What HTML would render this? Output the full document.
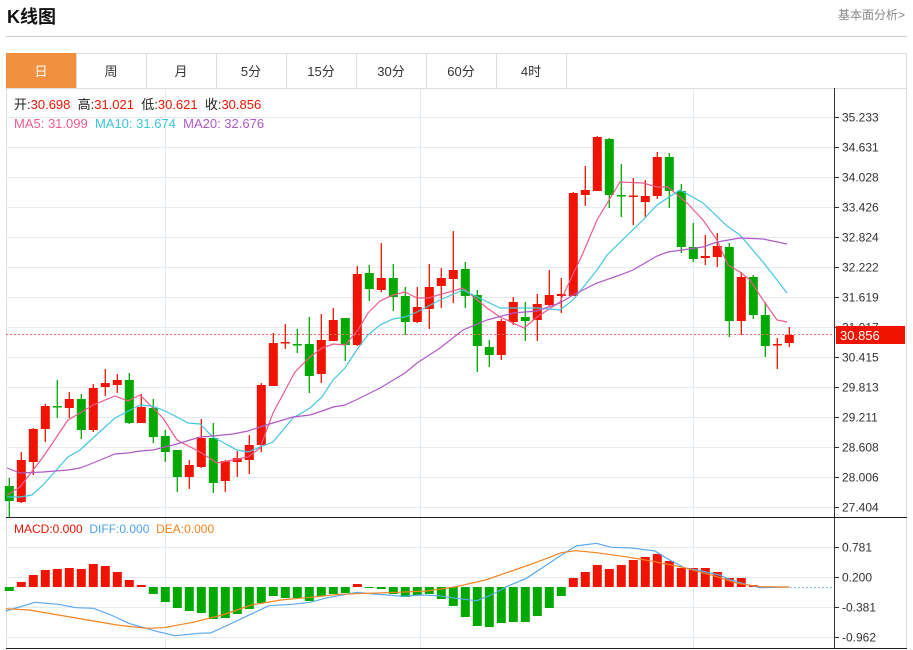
<!DOCTYPE html>
<html><head><meta charset="utf-8"><style>
html,body{margin:0;padding:0;background:#fff;width:913px;height:650px;overflow:hidden;font-family:"Liberation Sans","Noto Sans CJK SC",sans-serif}
#c{position:absolute;left:0;top:0}
</style></head><body>
<svg id="c" width="913" height="650" xmlns="http://www.w3.org/2000/svg" font-family="Liberation Sans, Noto Sans CJK SC, sans-serif"></svg>
<script>
var s='';
function L(x1,y1,x2,y2,c,w,extra){s+='<line x1="'+x1+'" y1="'+y1+'" x2="'+x2+'" y2="'+y2+'" stroke="'+c+'" stroke-width="'+(w||1)+'" '+(extra||'')+'/>';}
function R(x,y,w,h,f,extra){s+='<rect x="'+x+'" y="'+y+'" width="'+w+'" height="'+h+'" fill="'+f+'" '+(extra||'')+'/>';}
function T(x,y,t,c,sz,extra){s+='<text x="'+x+'" y="'+y+'" fill="'+c+'" font-size="'+sz+'" '+(extra||'')+'>'+t+'</text>';}
function P(pts,c){s+='<polyline fill="none" stroke="'+c+'" stroke-width="1.2" points="'+pts.map(function(p){return p[0]+','+p[1]}).join(' ')+'"/>';}
T(7,23,'K线图','#111',18,'font-weight="bold"');
T(838,19,'基本面分析&gt;','#888',12);
L(6,36.5,907,36.5,'#ccc',1);
R(6.5,53.5,900,35,'#fff','stroke="#ddd"');
var tabs=['日','周','月','5分','15分','30分','60分','4时'];
for(var i=0;i<tabs.length;i++){var x=6+70*i;
 if(i==0)R(x,53,70,35,'#f39040');
 L(x+70.5,53,x+70.5,88,'#ddd');
 T(x+35,76,tabs[i],i==0?'#fff':'#333',13,'text-anchor="middle"');}
L(6.5,88,6.5,648,'#ddd');L(906.5,88,906.5,648,'#ddd');
var labs=['35.233','34.631','34.028','33.426','32.824','32.222','31.619','31.017','30.415','29.813','29.211','28.608','28.006','27.404'];
for(var i=0;i<14;i++){var y=117+30*i+0.5;L(6,y,834,y,'#e3eaf0');L(834,y,839,y,'#333');T(842,y+4,labs[i],'#333',12);}
[165.5,420.5,693.5].forEach(function(x){L(x,88,x,648,'#e3eaf0');});
var ml=[['0.781',547],['0.200',577],['-0.381',607],['-0.962',637]];
ml.forEach(function(m){L(6,m[1]+0.5,834,m[1]+0.5,'#e3eaf0');L(834,m[1]+0.5,839,m[1]+0.5,'#333');T(842,m[1]+4.5,m[0],'#333',12);});
L(834.5,88,834.5,648,'#333');
L(6,517.5,907,517.5,'#222');L(6,648.5,907,648.5,'#222');
var C=[['g',486,501,478,517],['r',502,460,452,503],['r',462,429,428,475],['r',429,406,404,442],['g',406,407,380,418],['r',408,399,392,418],['g',399,430,394,439],['r',430,388,384,432],['r',387,383,369,396],['r',385,380,374,393],['g',380,423,373,424],['r',423,407,394,423],['g',408,437,399,443],['g',436,452,430,462],['g',450,477,450,492],['r',477,465,460,489],['r',467,438,419,468],['g',438,483,423,493],['r',481,461,460,492],['r',462,458,451,477],['r',460,445,435,474],['r',445,385,383,452],['r',386,343,333,386],['r',343,342,324,349],['g',344,345,329,353],['g',344,376,317,393],['r',374,340,314,383],['r',341,320,308,341],['g',318,345,318,361],['r',345,274,266,346],['g',273,289,265,301],['r',290,278,243,292],['g',278,297,264,311],['g',296,322,287,335],['r',322,307,287,323],['r',309,287,264,329],['r',286,278,268,308],['r',279,270,231,303],['g',269,296,262,308],['g',295,346,290,372],['g',347,355,340,367],['r',355,321,319,360],['r',322,302,297,325],['g',317,321,302,341],['r',320,304,294,341],['r',305,295,270,307],['r',296,294,278,313],['r',296,193,192,296],['r',195,190,166,206],['r',191,137,136,191],['g',139,195,138,208],['g',195,196,164,217],['r',196.5,195.5,178,225],['r',202,196,180,218],['r',196,157,152,199],['g',157,191,153,208],['g',191,247,184,253],['g',247,259,223,262],['r',258,256,235,265],['r',257,246,233,267],['g',247,321,243,337],['r',321,277,272,335],['g',277,315,275,319],['g',315,346,302,357],['r',345,344,338,369],['r',343,335,327,347]];
for(var i=0;i<C.length;i++){var c=C[i],x=9.3+12*i,col=c[0]=='r'?'#f01400':'#00a800';
 L(x,c[3],x,c[4],col,1.3);var t=Math.min(c[1],c[2]),h=Math.max(1.5,Math.abs(c[1]-c[2]));R(x-4.5,t,9,h,col);}
P([[7,495],[20,487],[43,457],[68,420],[80,413],[93,405],[115,396],[128,401],[140,395],[163,418],[177,440],[200,452],[217,463],[233,460],[248,457],[260,448],[273,413],[295,372],[310,357],[322,348],[333,344],[345,345],[358,330],[368,313],[380,301],[393,295],[405,292],[417,298],[428,298],[463,288],[487,308],[500,317],[524,328],[537,317],[560,302],[583,253],[597,220],[620,182],[643,183],[657,187],[668,187],[687,203],[703,220],[717,240],[728,265],[740,272],[750,280],[763,300],[777,320],[787,322]],'#ee5a8c');
P([[7,497],[20,497],[32,495],[43,485],[68,457],[80,450],[93,438],[115,418],[140,405],[152,406],[163,410],[177,417],[188,423],[200,424],[213,437],[237,450],[248,452],[260,447],[273,442],[293,418],[310,408],[322,397],[333,380],[345,368],[358,348],[368,335],[380,325],[393,319],[405,317],[417,312],[440,300],[463,290],[500,308],[537,308],[560,310],[573,300],[597,270],[607,255],[643,220],[657,205],[680,190],[703,203],[727,226],[740,235],[763,262],[777,280],[787,293]],'#45c6e0');
P([[7,468],[20,473],[43,472],[68,470],[80,468],[93,463],[115,454],[128,453],[140,451],[153,450],[177,444],[200,437],[213,436],[233,434],[248,431],[260,427],[273,423],[293,417],[310,415],[322,411],[333,407],[345,405],[358,399],[380,388],[405,373],[417,363],[440,348],[463,330],[487,320],[513,313],[537,311],[560,303],[573,295],[597,283],[620,275],[633,270],[657,256],[668,252],[703,247],[717,242],[740,238],[763,239],[787,244]],'#b05ac8');
L(6,334.5,834,334.5,'#f07070',1,'stroke-dasharray="2,2"');
R(836,326,69,18,'#f01400');T(840,340,'30.856','#fff',13);
s+='<text x="14" y="109" font-size="13" xml:space="preserve"><tspan fill="#222">开:</tspan><tspan fill="#f01400">30.698</tspan><tspan fill="#222">  高:</tspan><tspan fill="#f01400">31.021</tspan><tspan fill="#222">  低:</tspan><tspan fill="#f01400">30.621</tspan><tspan fill="#222">  收:</tspan><tspan fill="#f01400">30.856</tspan></text>';
s+='<text x="14" y="128" font-size="13" xml:space="preserve"><tspan fill="#ee5a8c">MA5: 31.099</tspan><tspan fill="#3cc4dc">  MA10: 31.674</tspan><tspan fill="#b05ac8">  MA20: 32.676</tspan></text>';
s+='<text x="14" y="533" font-size="12" xml:space="preserve"><tspan fill="#f01400">MACD:0.000</tspan><tspan fill="#4aa3ee">  DIFF:0.000</tspan><tspan fill="#f58220">  DEA:0.000</tspan></text>';
var B=[591,582,575,570,569,568,569,564,566,572,580,585,594,602,608,611,613,619,618,614,609,603,596,598,598,601,596,594,593,584,588,589,594,597,595,594,599,606,617,626,627,623,622,622,616,608,596,578,572,565,569,565,560,557,554,561,568,568,568,572,578,578,585,588,587.5,587.5];
var z=587;
for(var i=0;i<B.length;i++){var x=9.3+12*i,v=B[i];
 if(v<z)R(x-4.5,v,9,z-v,'#f01400');else if(v>z+0.5)R(x-4.5,z,9,v-z,'#00a800');}
function S(a){return a.map(function(p){return [(p[0]/1.71).toFixed(1),(515+p[1]/3).toFixed(1)]});}
P(S([[10,288],[60,262],[100,268],[130,278],[160,280],[190,300],[220,325],[250,340],[270,350],[300,362],[340,355],[360,354],[390,330],[420,305],[460,272],[500,268],[530,262],[560,248],[610,232],[640,237],[690,244],[720,240],[750,242],[780,250],[815,257],[840,240],[870,212],[900,190],[930,155],[960,120],[985,93],[1020,85],[1045,97],[1080,99],[1120,108],[1140,130],[1170,158],[1200,168],[1230,180],[1250,195],[1280,210],[1300,218],[1350,216]]),'#5aa9f0');
P(S([[10,281],[50,285],[100,300],[150,315],[200,330],[250,340],[280,338],[330,322],[380,300],[430,270],[480,255],[530,247],[580,238],[630,235],[680,232],[730,228],[780,215],[830,195],[880,165],[920,140],[960,113],[985,107],[1020,113],[1070,125],[1120,140],[1170,158],[1220,182],[1260,205],[1300,215],[1350,216]]),'#f58220');
L(790,587.5,834,587.5,'#7cc8e8',1,'stroke-dasharray="2,2"');
document.getElementById('c').innerHTML=s;
</script>
</body></html>
